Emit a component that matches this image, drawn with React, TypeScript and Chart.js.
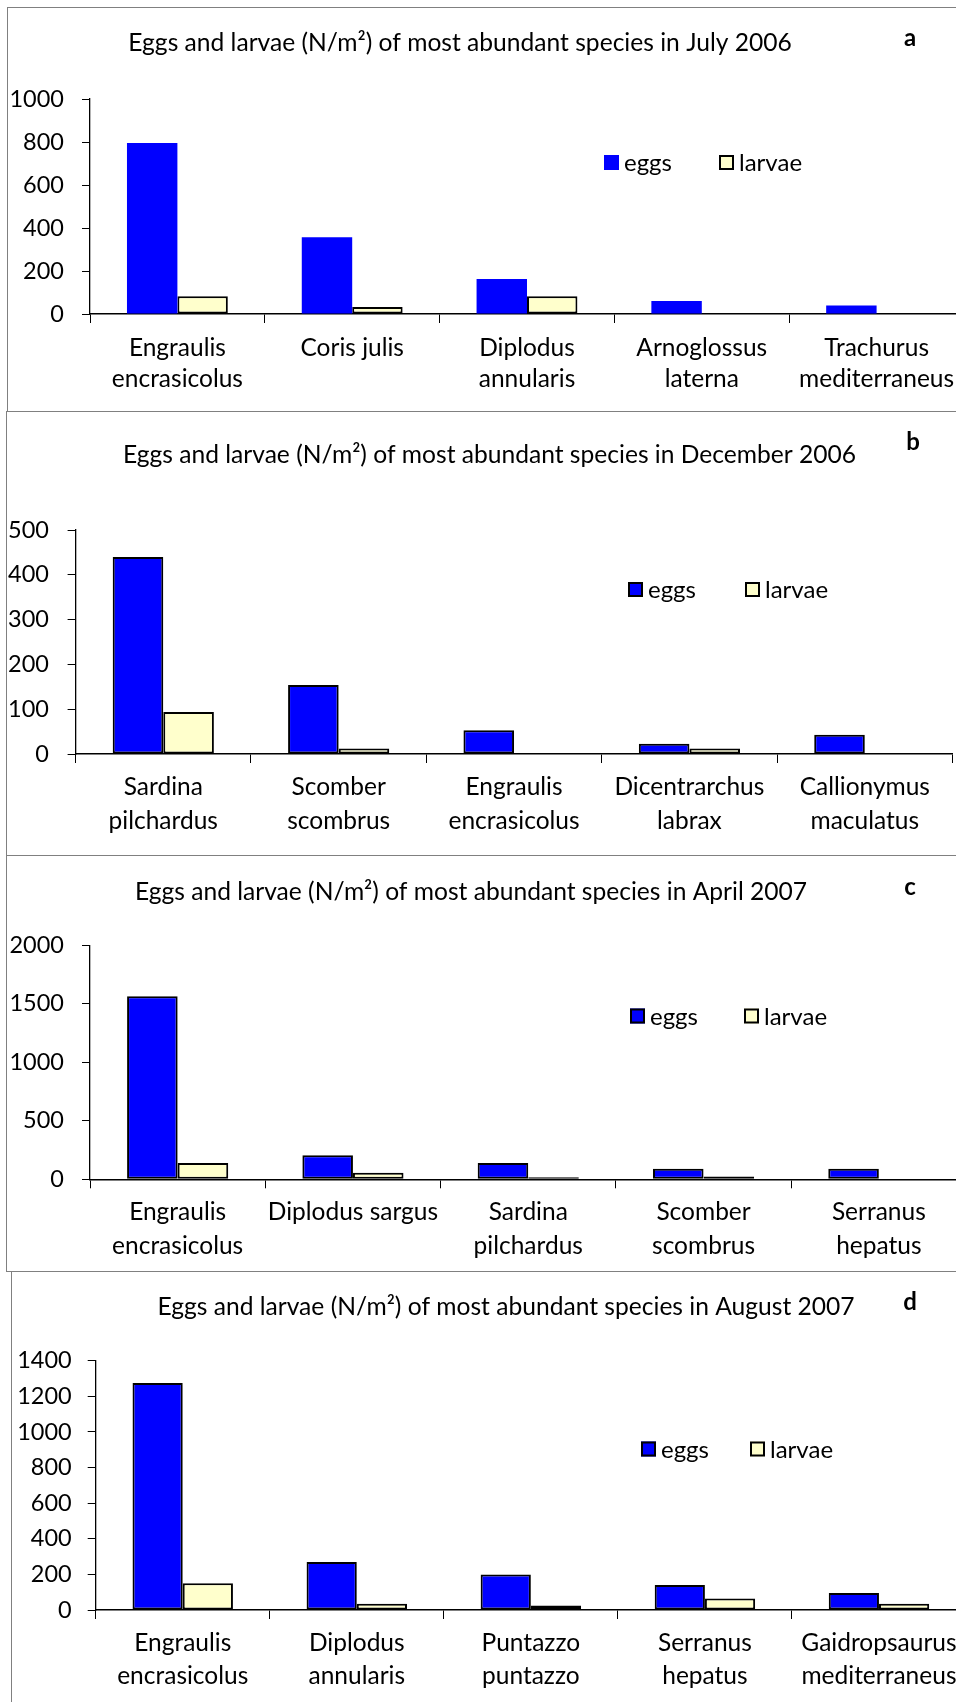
import React, { useEffect, useRef } from 'react';
import { Chart, registerables } from 'chart.js';
Chart.register(...registerables);

const FONT = 'Lato, "Open Sans", sans-serif';
const CANVAS_W = 1000;

// ---------- Panel a: July 2006 ----------
const speciesA = [['Engraulis', 'encrasicolus'], ['Coris julis'], ['Diplodus', 'annularis'], ['Arnoglossus', 'laterna'], ['Trachurus', 'mediterraneus']];
const eggsA = [795, 357, 163, 60, 40];
const larvaeA = [83, 33, 83, 0, 0];
const yTicksA = [0, 200, 400, 600, 800, 1000];

// ---------- Panel b: December 2006 ----------
const speciesB = [['Sardina', 'pilchardus'], ['Scomber', 'scombrus'], ['Engraulis', 'encrasicolus'], ['Dicentrarchus', 'labrax'], ['Callionymus', 'maculatus']];
const eggsB = [440, 154, 53, 23, 43];
const larvaeB = [94, 12, 0, 12, 0];
const yTicksB = [0, 100, 200, 300, 400, 500];

// ---------- Panel c: April 2007 ----------
const speciesC = [['Engraulis', 'encrasicolus'], ['Diplodus sargus'], ['Sardina', 'pilchardus'], ['Scomber', 'scombrus'], ['Serranus', 'hepatus']];
const eggsC = [1565, 205, 140, 90, 90];
const larvaeC = [140, 55, 18, 25, 0];
const yTicksC = [0, 500, 1000, 1500, 2000];

// ---------- Panel d: August 2007 ----------
const speciesD = [['Engraulis', 'encrasicolus'], ['Diplodus', 'annularis'], ['Puntazzo', 'puntazzo'], ['Serranus', 'hepatus'], ['Gaidropsaurus', 'mediterraneus']];
const eggsD = [1275, 270, 200, 140, 95];
const larvaeD = [150, 35, 25, 65, 35];
const yTicksD = [0, 200, 400, 600, 800, 1000, 1200, 1400];

const seriesNames = ['eggs', 'larvae'];
const seriesColors = ['#0000FF', '#FFFFCC'];

const titles = [
  'Eggs and larvae (N/m²) of most abundant species in July 2006',
  'Eggs and larvae (N/m²) of most abundant species in December 2006',
  'Eggs and larvae (N/m²) of most abundant species in April 2007',
  'Eggs and larvae (N/m²) of most abundant species in August 2007',
];
const letters = ['a', 'b', 'c', 'd'];

// layout (page / canvas pixels), kept apart from the data
const layouts = [
  { top: 0, height: 411, area: { left: 90, right: 964, top: 99, bottom: 314 }, title: [460, 43], letter: [910, 38], legend: { x: [604, 719], y: 162.5 }, tickPad: 18, labelPad: 10, lineH: 31, eggsBorder: false },
  { top: 411, height: 444, area: { left: 75.6, right: 952.5, top: 119, bottom: 343 }, title: [489.5, 44], letter: [913, 31], legend: { x: [628, 745], y: 178.5 }, tickPad: 18.6, labelPad: 7, lineH: 34, eggsBorder: true },
  { top: 855, height: 416, area: { left: 90, right: 966.5, top: 90.3, bottom: 324.3 }, title: [471, 37], letter: [910, 32], legend: { x: [630, 744], y: 161 }, tickPad: 18, labelPad: 7, lineH: 34, eggsBorder: true },
  { top: 1271, height: 431, area: { left: 95.7, right: 966, top: 89.7, bottom: 339 }, title: [506, 35.7], letter: [910, 31], legend: { x: [641, 750], y: 178 }, tickPad: 16, labelPad: 8, lineH: 33, eggsBorder: true },
];

const frames = [
  { left: 7, top: 7, bottom: 411 },
  { left: 6, top: 411, bottom: 855 },
  { left: 6, top: 855, bottom: 1271 },
  { left: 11, top: 1271, bottom: 1800 },
];

const panelsData = [
  { labels: speciesA, eggs: eggsA, larvae: larvaeA, yTicks: yTicksA },
  { labels: speciesB, eggs: eggsB, larvae: larvaeB, yTicks: yTicksB },
  { labels: speciesC, eggs: eggsC, larvae: larvaeC, yTicks: yTicksC },
  { labels: speciesD, eggs: eggsD, larvae: larvaeD, yTicks: yTicksD },
];

const SIZES = { title: 24.6, tick: 23.5, cat: 24.5, legend: 24, letter: 24, box: 15 };

const decorPlugin = {
  id: 'decor',
  afterDraw(chart: any, _args: any, opts: any) {
    const ctx = chart.ctx;
    ctx.save();
    ctx.fillStyle = '#000';
    ctx.textBaseline = 'middle';
    ctx.textAlign = 'center';
    ctx.font = `${SIZES.title}px ${FONT}`;
    ctx.fillText(opts.title, opts.titleX, opts.titleY);
    ctx.font = `bold ${SIZES.letter}px ${FONT}`;
    ctx.fillText(opts.letter, opts.letterX, opts.letterY);
    const s = SIZES.box;
    chart.data.datasets.forEach((ds: any, i: number) => {
      const x = opts.legendX[i];
      const y = opts.legendY;
      ctx.fillStyle = ds.backgroundColor;
      ctx.fillRect(x, y - s / 2, s, s);
      if (ds.borderWidth > 0) {
        ctx.lineWidth = 2;
        ctx.strokeStyle = '#000';
        ctx.strokeRect(x + 1, y - s / 2 + 1, s - 2, s - 2);
      }
      ctx.fillStyle = '#000';
      ctx.textAlign = 'left';
      ctx.font = `${SIZES.legend}px ${FONT}`;
      ctx.fillText(ds.label, x + s + 5, y + 1);
    });
    ctx.restore();
  },
};

function PanelChart({ idx }: { idx: number }) {
  const ref = useRef<HTMLCanvasElement>(null);
  const L = layouts[idx];
  const D = panelsData[idx];
  useEffect(() => {
    const canvas = ref.current;
    if (!canvas) return;
    const yt = D.yTicks;
    const chart = new Chart(canvas, {
      type: 'bar',
      data: {
        labels: D.labels,
        datasets: [
          {
            label: seriesNames[0],
            data: D.eggs,
            backgroundColor: seriesColors[0],
            borderColor: '#000',
            borderWidth: L.eggsBorder ? 2 : 0,
            borderSkipped: false,
            categoryPercentage: 0.577,
            barPercentage: 1,
          },
          {
            label: seriesNames[1],
            data: D.larvae,
            backgroundColor: seriesColors[1],
            borderColor: '#000',
            borderWidth: 2,
            borderSkipped: false,
            categoryPercentage: 0.577,
            barPercentage: 1,
          },
        ],
      },
      options: {
        responsive: false,
        animation: false,
        devicePixelRatio: 1,
        layout: { padding: { left: 0, top: L.area.top, right: CANVAS_W - L.area.right, bottom: 0 } },
        plugins: {
          legend: { display: false },
          title: { display: false },
          tooltip: { enabled: false },
          decor: {
            title: titles[idx],
            titleX: L.title[0],
            titleY: L.title[1],
            letter: letters[idx],
            letterX: L.letter[0],
            letterY: L.letter[1],
            legendX: L.legend.x,
            legendY: L.legend.y,
          },
        } as any,
        scales: {
          x: {
            type: 'category',
            grid: { offset: true, drawOnChartArea: false, drawTicks: true, tickLength: 9, color: '#000', lineWidth: 1 },
            border: { display: true, color: '#000', width: 1.5 },
            ticks: {
              color: '#000',
              font: { family: FONT, size: SIZES.cat, lineHeight: L.lineH / SIZES.cat },
              padding: L.labelPad,
              maxRotation: 0,
              minRotation: 0,
              autoSkip: false,
            },
            afterFit: (s: any) => { s.height = L.height - L.area.bottom; },
          },
          y: {
            type: 'linear',
            min: yt[0],
            max: yt[yt.length - 1],
            ticks: {
              stepSize: yt[1] - yt[0],
              color: '#000',
              font: { family: FONT, size: SIZES.tick },
              padding: L.tickPad,
              callback: (v: any) => String(v),
            },
            grid: { drawOnChartArea: false, drawTicks: true, tickLength: 8, color: '#000', lineWidth: 1 },
            border: { display: true, color: '#000', width: 1.3 },
            afterFit: (s: any) => { s.width = L.area.left; },
          },
        },
      } as any,
      plugins: [decorPlugin as any],
    });
    return () => chart.destroy();
  }, []);
  return (
    <canvas
      ref={ref}
      width={CANVAS_W}
      height={L.height}
      style={{ position: 'absolute', left: 0, top: L.top, width: CANVAS_W, height: L.height, display: 'block' }}
    />
  );
}

export default function App() {
  return (
    <div style={{ position: 'absolute', left: 0, top: 0, width: 956, height: 1702, overflow: 'hidden', background: '#fff' }}>
      {layouts.map((_, i) => <PanelChart key={i} idx={i} />)}
      {frames.map((f, i) => (
        <div
          key={'f' + i}
          style={{
            position: 'absolute',
            left: f.left,
            top: f.top,
            width: 1200,
            height: f.bottom - f.top - 1,
            borderLeft: '1px solid #808080',
            borderTop: '1px solid #808080',
            borderBottom: '1px solid #808080',
            pointerEvents: 'none',
          }}
        />
      ))}
    </div>
  );
}
